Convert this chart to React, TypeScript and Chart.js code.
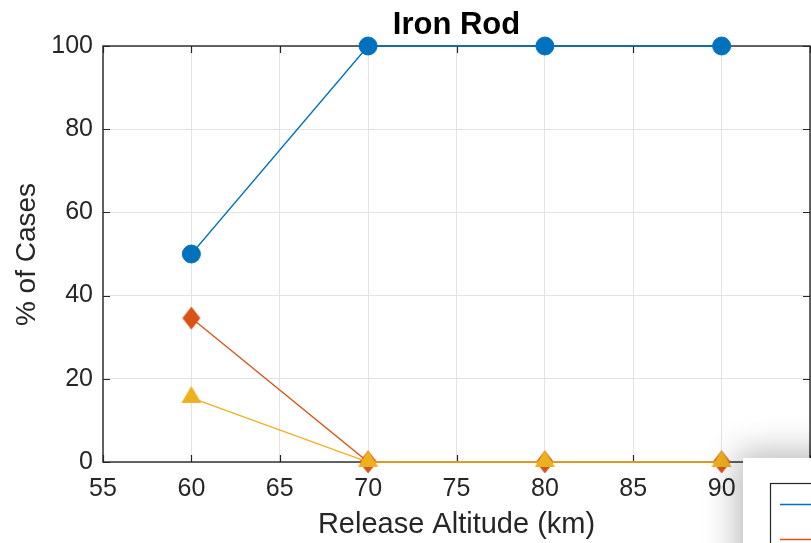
import React, { useEffect, useRef } from "react";
import { Chart, registerables } from "chart.js";

Chart.register(...registerables);

// Release altitudes (km) and share of cases (%) per outcome
const altitudes = [60, 70, 80, 90];
const outcomeA = [50, 100, 100, 100];
const outcomeB = [34.6, 0, 0, 0];
const outcomeC = [15.4, 0, 0, 0];
const seriesNames = ["Outcome A", "Outcome B", "Outcome C"];

const xTickValues = [55, 60, 65, 70, 75, 80, 85, 90];
const yTickValues = [0, 20, 40, 60, 80, 100];

const titleText = "Iron Rod";
const xAxisTitle = "Release Altitude (km)";
const yAxisTitle = "% of Cases";

const BLUE = "#0072BD";
const ORANGE = "#D95319";
const YELLOW = "#EDB120";
const AXIS = "#262626";
const FONT = "'Liberation Sans', Arial, Helvetica, sans-serif";

function diamondMarker(color: string): HTMLCanvasElement {
  const c = document.createElement("canvas");
  c.width = 20;
  c.height = 26;
  const g = c.getContext("2d")!;
  g.fillStyle = color;
  g.beginPath();
  g.moveTo(10, 1.5);
  g.lineTo(19, 13);
  g.lineTo(10, 24.5);
  g.lineTo(1, 13);
  g.closePath();
  g.fill();
  return c;
}

function triangleMarker(color: string): HTMLCanvasElement {
  const c = document.createElement("canvas");
  c.width = 22;
  c.height = 24;
  const g = c.getContext("2d")!;
  g.fillStyle = color;
  g.beginPath();
  g.moveTo(11, 0);
  g.lineTo(21, 17);
  g.lineTo(1, 17);
  g.closePath();
  g.fill();
  return c;
}

const framePlugin = {
  id: "frame",
  beforeDatasetsDraw(chart: any) {
    const { ctx, chartArea } = chart;
    const { left, right, top, bottom } = chartArea;
    const xs = chart.scales.x;
    const ys = chart.scales.y;
    ctx.save();
    ctx.strokeStyle = AXIS;
    ctx.lineWidth = 1.4;
    ctx.strokeRect(left, top, right - left, bottom - top);
    ctx.lineWidth = 1.2;
    const tl = 7;
    ctx.beginPath();
    for (const v of xTickValues.concat([95])) {
      const px = Math.round(xs.getPixelForValue(v)) + 0.5;
      ctx.moveTo(px, bottom);
      ctx.lineTo(px, bottom - tl);
      ctx.moveTo(px, top);
      ctx.lineTo(px, top + tl);
    }
    for (const v of yTickValues) {
      const py = Math.round(ys.getPixelForValue(v)) + 0.5;
      ctx.moveTo(left, py);
      ctx.lineTo(left + tl, py);
      ctx.moveTo(right, py);
      ctx.lineTo(right - tl, py);
    }
    ctx.stroke();
    ctx.restore();
  },
  afterDraw(chart: any) {
    const { ctx, chartArea } = chart;
    const cx = (chartArea.left + chartArea.right) / 2;
    ctx.save();
    ctx.fillStyle = "#000";
    ctx.textAlign = "center";
    ctx.textBaseline = "alphabetic";
    ctx.font = `bold 31px ${FONT}`;
    ctx.fillText(titleText, cx, 34);

    ctx.fillStyle = AXIS;
    ctx.font = `29px ${FONT}`;
    ctx.fillText(xAxisTitle, cx, 533);

    ctx.font = `28px ${FONT}`;
    ctx.save();
    ctx.translate(35, (chartArea.top + chartArea.bottom) / 2 + 0.5);
    ctx.rotate(-Math.PI / 2);
    ctx.fillText(yAxisTitle, 0, 0);
    ctx.restore();

    // legend panel in the lower right corner
    ctx.save();
    ctx.shadowColor = "rgba(0,0,0,0.28)";
    ctx.shadowBlur = 32;
    ctx.shadowOffsetX = -6;
    ctx.shadowOffsetY = -6;
    ctx.fillStyle = "#fff";
    ctx.fillRect(743, 458, 200, 200);
    ctx.restore();

    ctx.strokeStyle = AXIS;
    ctx.lineWidth = 1.2;
    ctx.strokeRect(770.5, 483.5, 120, 120);
    const ds = chart.data.datasets;
    const rows = [504.5, 539.5];
    rows.forEach((y, i) => {
      ctx.strokeStyle = ds[i].borderColor;
      ctx.lineWidth = 1.5;
      ctx.beginPath();
      ctx.moveTo(780, y);
      ctx.lineTo(815, y);
      ctx.stroke();
    });
    ctx.restore();
  },
};

export default function App() {
  const canvasRef = useRef<HTMLCanvasElement | null>(null);

  useEffect(() => {
    const canvas = canvasRef.current;
    if (!canvas) return;
    const pts = (vals: number[]) => altitudes.map((x, i) => ({ x, y: vals[i] }));

    const chart = new Chart(canvas, {
      type: "line",
      data: {
        datasets: [
          {
            label: seriesNames[0],
            data: pts(outcomeA),
            borderColor: BLUE,
            backgroundColor: BLUE,
            borderWidth: 1.3,
            pointStyle: "circle",
            pointRadius: 9,
            pointBorderWidth: 1,
            pointBorderColor: BLUE,
            pointBackgroundColor: BLUE,
            clip: false,
            order: 3,
          },
          {
            label: seriesNames[1],
            data: pts(outcomeB),
            borderColor: ORANGE,
            backgroundColor: ORANGE,
            borderWidth: 1.3,
            pointStyle: diamondMarker(ORANGE),
            clip: false,
            order: 2,
          },
          {
            label: seriesNames[2],
            data: pts(outcomeC),
            borderColor: YELLOW,
            backgroundColor: YELLOW,
            borderWidth: 1.3,
            pointStyle: triangleMarker(YELLOW),
            clip: false,
            order: 1,
          },
        ],
      },
      options: {
        animation: false,
        responsive: false,
        maintainAspectRatio: false,
        layout: { autoPadding: false, padding: { top: 46, right: 1, left: 0, bottom: 0 } },
        plugins: {
          legend: { display: false },
          title: { display: false },
          tooltip: { enabled: false },
        },
        elements: { line: { tension: 0 } },
        scales: {
          x: {
            type: "linear",
            min: 55,
            max: 95,
            afterFit: (s: any) => {
              s.height = 81;
            },
            afterBuildTicks: (s: any) => {
              s.ticks = xTickValues.concat([95]).map((v) => ({ value: v }));
            },
            grid: {
              color: "#e3e3e3",
              lineWidth: 1,
              drawTicks: true,
              tickLength: 12,
              tickColor: "rgba(0,0,0,0)",
            },
            border: { display: false },
            ticks: {
              padding: 0,
              maxRotation: 0,
              autoSkip: false,
              color: AXIS,
              font: { family: FONT, size: 25 },
              callback: (v: any) => (v <= 90 ? String(v) : ""),
            },
          },
          y: {
            type: "linear",
            min: 0,
            max: 100,
            afterFit: (s: any) => {
              s.width = 103;
            },
            afterBuildTicks: (s: any) => {
              s.ticks = yTickValues.map((v) => ({ value: v }));
            },
            grid: {
              color: "#e3e3e3",
              lineWidth: 1,
              drawTicks: true,
              tickLength: 10,
              tickColor: "rgba(0,0,0,0)",
            },
            border: { display: false },
            ticks: {
              padding: 0,
              color: AXIS,
              font: { family: FONT, size: 25 },
              callback: (v: any) => String(v),
            },
          },
        },
      },
      plugins: [framePlugin],
    });

    return () => chart.destroy();
  }, []);

  return (
    <div style={{ position: "fixed", left: 0, top: 0, width: 811, height: 543, background: "#fff" }}>
      <canvas ref={canvasRef} width={811} height={543} style={{ display: "block" }} />
    </div>
  );
}
